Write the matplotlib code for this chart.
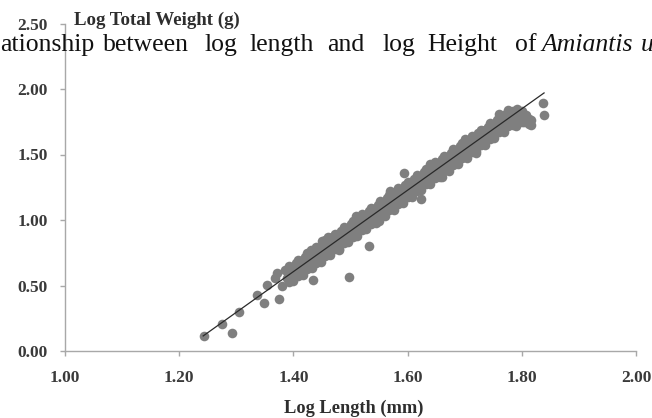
import matplotlib
matplotlib.use("Agg")
import matplotlib.pyplot as plt
from matplotlib.font_manager import FontProperties

# Log length (mm) vs log total weight (g)
sparse_len = [1.244, 1.275, 1.293, 1.304, 1.337, 1.349, 1.354, 1.368, 1.374, 1.372,
              1.380, 1.386, 1.389, 1.430, 1.460, 1.593, 1.623]
sparse_wt = [0.115, 0.206, 0.137, 0.298, 0.427, 0.366, 0.505, 0.555, 0.400, 0.595,
             0.500, 0.620, 0.560, 0.771, 0.870, 1.355, 1.160]

outlier_len = [1.435, 1.498, 1.532, 1.837, 1.839]
outlier_wt = [0.542, 0.565, 0.800, 1.890, 1.800]

band_len = [
    1.392, 1.392, 1.392, 1.400, 1.400, 1.400, 1.408, 1.408, 1.408, 1.416, 1.416, 1.416,
    1.424, 1.424, 1.424, 1.432, 1.432, 1.432, 1.440, 1.440, 1.440, 1.448, 1.448, 1.448,
    1.456, 1.456, 1.456, 1.464, 1.464, 1.464, 1.472, 1.472, 1.472, 1.480, 1.480, 1.480,
    1.488, 1.488, 1.488, 1.496, 1.496, 1.496, 1.504, 1.504, 1.504, 1.512, 1.512, 1.512,
    1.520, 1.520, 1.520, 1.528, 1.528, 1.528, 1.536, 1.536, 1.536, 1.544, 1.544, 1.544,
    1.552, 1.552, 1.552, 1.560, 1.560, 1.560, 1.568, 1.568, 1.568, 1.576, 1.576, 1.576,
    1.584, 1.584, 1.584, 1.592, 1.592, 1.592, 1.600, 1.600, 1.600, 1.608, 1.608, 1.608,
    1.616, 1.616, 1.616, 1.624, 1.624, 1.624, 1.632, 1.632, 1.632, 1.640, 1.640, 1.640,
    1.648, 1.648, 1.648, 1.656, 1.656, 1.656, 1.664, 1.664, 1.664, 1.672, 1.672, 1.672,
    1.680, 1.680, 1.680, 1.688, 1.688, 1.688, 1.696, 1.696, 1.696, 1.704, 1.704, 1.704,
    1.712, 1.712, 1.712, 1.720, 1.720, 1.720, 1.728, 1.728, 1.728, 1.736, 1.736, 1.736,
    1.744, 1.744, 1.744, 1.752, 1.752, 1.752, 1.760, 1.760, 1.760, 1.768, 1.768, 1.768,
    1.776, 1.776, 1.776, 1.784, 1.784, 1.784, 1.792, 1.792, 1.792, 1.800, 1.800, 1.800,
    1.808, 1.808, 1.816, 1.816,
]
band_wt = [
    0.646, 0.586, 0.526, 0.641, 0.581, 0.531, 0.696, 0.636, 0.576, 0.691, 0.631, 0.581,
    0.745, 0.685, 0.625, 0.740, 0.680, 0.630, 0.795, 0.735, 0.675, 0.790, 0.730, 0.680,
    0.845, 0.785, 0.725, 0.840, 0.780, 0.730, 0.895, 0.835, 0.775, 0.889, 0.829, 0.779,
    0.944, 0.884, 0.824, 0.939, 0.879, 0.829, 0.994, 0.934, 0.874, 0.989, 0.929, 0.879,
    1.044, 0.984, 0.924, 1.039, 0.979, 0.929, 1.093, 1.033, 0.973, 1.088, 1.028, 0.978,
    1.143, 1.083, 1.023, 1.138, 1.078, 1.028, 1.193, 1.133, 1.073, 1.188, 1.128, 1.078,
    1.243, 1.183, 1.123, 1.237, 1.177, 1.127, 1.292, 1.232, 1.172, 1.287, 1.227, 1.177,
    1.342, 1.282, 1.222, 1.337, 1.277, 1.227, 1.392, 1.332, 1.272, 1.387, 1.327, 1.277,
    1.441, 1.381, 1.321, 1.436, 1.376, 1.326, 1.491, 1.431, 1.371, 1.486, 1.426, 1.376,
    1.541, 1.481, 1.421, 1.536, 1.476, 1.426, 1.591, 1.531, 1.471, 1.585, 1.525, 1.475,
    1.640, 1.580, 1.520, 1.635, 1.575, 1.525, 1.690, 1.630, 1.570, 1.685, 1.625, 1.575,
    1.740, 1.680, 1.620, 1.735, 1.675, 1.625, 1.789, 1.729, 1.669, 1.784, 1.724, 1.674,
    1.839, 1.779, 1.719, 1.834, 1.774, 1.724, 1.850, 1.790, 1.740, 1.835, 1.775, 1.745,
    1.800, 1.760, 1.760, 1.725,
]

# second, staggered set of specimens inside the band
mid_len = [
    1.396, 1.396, 1.404, 1.404, 1.412, 1.412, 1.420, 1.420, 1.428, 1.428, 1.436, 1.436,
    1.444, 1.444, 1.452, 1.452, 1.460, 1.460, 1.468, 1.468, 1.476, 1.476, 1.484, 1.484,
    1.492, 1.492, 1.500, 1.500, 1.508, 1.508, 1.516, 1.516, 1.524, 1.524, 1.532, 1.532,
    1.540, 1.540, 1.548, 1.548, 1.556, 1.556, 1.564, 1.564, 1.572, 1.572, 1.580, 1.580,
    1.588, 1.588, 1.596, 1.596, 1.604, 1.604, 1.612, 1.612, 1.620, 1.620, 1.628, 1.628,
    1.636, 1.636, 1.644, 1.644, 1.652, 1.652, 1.660, 1.660, 1.668, 1.668, 1.676, 1.676,
    1.684, 1.684, 1.692, 1.692, 1.700, 1.700, 1.708, 1.708, 1.716, 1.716, 1.724, 1.724,
    1.732, 1.732, 1.740, 1.740, 1.748, 1.748, 1.756, 1.756, 1.764, 1.764, 1.772, 1.772,
    1.780, 1.780, 1.788, 1.788, 1.796, 1.796, 1.804, 1.804, 1.812, 1.812,
]
mid_wt = [
    0.628, 0.553, 0.668, 0.598, 0.678, 0.603, 0.718, 0.648, 0.728, 0.653, 0.768, 0.698,
    0.778, 0.703, 0.817, 0.747, 0.827, 0.752, 0.867, 0.797, 0.877, 0.802, 0.917, 0.847,
    0.927, 0.852, 0.967, 0.897, 0.976, 0.901, 1.016, 0.946, 1.026, 0.951, 1.066, 0.996,
    1.076, 1.001, 1.116, 1.046, 1.125, 1.050, 1.165, 1.095, 1.175, 1.100, 1.215, 1.145,
    1.225, 1.150, 1.265, 1.195, 1.275, 1.200, 1.314, 1.244, 1.324, 1.249, 1.364, 1.294,
    1.374, 1.299, 1.414, 1.344, 1.424, 1.349, 1.464, 1.394, 1.473, 1.398, 1.513, 1.443,
    1.523, 1.448, 1.563, 1.493, 1.573, 1.498, 1.613, 1.543, 1.623, 1.548, 1.662, 1.592,
    1.672, 1.597, 1.712, 1.642, 1.722, 1.647, 1.762, 1.692, 1.772, 1.697, 1.812, 1.742,
    1.821, 1.746, 1.830, 1.760, 1.815, 1.765, 1.790, 1.750, 1.770, 1.735,
]

# specimens along the upper and lower edge of the band
edge_len = [1.450, 1.510, 1.570, 1.640, 1.700, 1.760, 1.480, 1.550, 1.660, 1.720, 1.790]
edge_wt = [0.840, 1.030, 1.220, 1.430, 1.620, 1.810, 0.770, 0.990, 1.330, 1.510, 1.720]

# regression line end points
fit_len = [1.242, 1.839]
fit_wt = [0.115, 1.970]

x_ticks = [1.00, 1.20, 1.40, 1.60, 1.80, 2.00]
y_ticks = [0.00, 0.50, 1.00, 1.50, 2.00, 2.50]

W, H = 652, 418
fig = plt.figure(figsize=(W / 100, H / 100), dpi=100)
ax = fig.add_axes([65 / W, 1 - 351 / H, (636 - 65) / W, (351 - 23.5) / H])

pt_color = "#7f7f7f"
pt_size = 48
for xs, ys in [(band_len, band_wt), (mid_len, mid_wt), (edge_len, edge_wt),
               (sparse_len, sparse_wt), (outlier_len, outlier_wt)]:
    ax.scatter(xs, ys, s=pt_size, color=pt_color, linewidths=0, zorder=2)
ax.plot(fit_len, fit_wt, color="#2a2a2a", lw=0.9, zorder=3)

ax.set_xlim(1.0, 2.0)
ax.set_ylim(0.0, 2.5)
ax.set_xticks(x_ticks)
ax.set_yticks(y_ticks)
ax.set_xticklabels([f"{v:.2f}" for v in x_ticks])
ax.set_yticklabels([f"{v:.2f}" for v in y_ticks])

for side in ["top", "right"]:
    ax.spines[side].set_visible(False)
for side in ["left", "bottom"]:
    ax.spines[side].set_color("#a8a8a8")
    ax.spines[side].set_linewidth(1.0)

tick_font = FontProperties(family="Liberation Serif", weight="bold", size=12.5)
for lab in ax.get_xticklabels() + ax.get_yticklabels():
    lab.set_fontproperties(tick_font)
    lab.set_color("#3a3a3a")
ax.tick_params(axis="both", color="#a8a8a8", length=3.5, width=1.0)
ax.tick_params(axis="x", pad=10)
ax.tick_params(axis="y", pad=9)

fig.text(74 / W, 1 - 25 / H, "Log Total Weight (g)", family="Liberation Serif",
         weight="bold", size=13.6, color="#2e2e2e", va="baseline", ha="left")
fig.text(354 / W, 1 - 408 / H, "Log Length (mm)", family="Liberation Serif",
         weight="bold", size=13.2, color="#2e2e2e", va="center", ha="center")

# caption text from the page running across the top
words = [("ationship", 0, "normal", 18.5), ("between", 103, "normal", 18.5),
         ("log", 205, "normal", 18.5), ("length", 250, "normal", 18.5),
         ("and", 327, "normal", 18.5), ("log", 383, "normal", 18.5),
         ("Height", 427, "normal", 18.5), ("of", 515, "normal", 18.5),
         ("Amiantis", 541, "italic", 18.5), ("u", 641, "italic", 18.5)]
for word, xpos, style, fsize in words:
    fig.text(xpos / W, 1 - 51 / H, word, family="Liberation Serif", size=fsize,
             style=style, color="#111111", va="baseline", ha="left")

fig.savefig("out.png", dpi=100)
